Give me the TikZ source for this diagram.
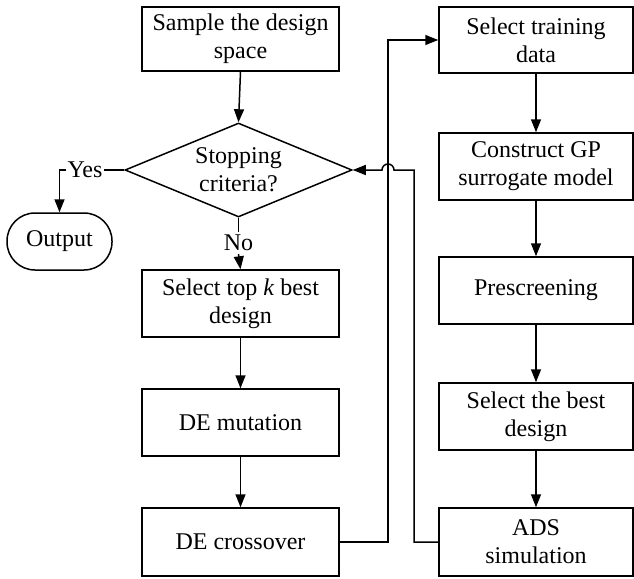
\documentclass[tikz,border=0pt]{standalone}
\usepackage{fontspec}
\setmainfont{Liberation Serif}
\usetikzlibrary{arrows.meta,shapes.geometric}
\begin{document}
\begin{tikzpicture}[x=1pt,y=-1pt,
  every node/.style={font=\fontsize{24}{28}\selectfont},
  lbox/.style={draw,line width=1.5pt,minimum width=197pt,minimum height=64pt,align=center,inner sep=0pt},
  rbox/.style={draw,line width=1.5pt,minimum width=194pt,minimum height=66pt,align=center,inner sep=0pt},
  conn/.style={line width=1.5pt},
  arr/.style={line width=1.5pt,-{Triangle[length=13pt,width=10pt]}}]
\useasboundingbox (0,0) rectangle (634,578);
% left column
\node[lbox] (sample) at (240.5,39) {Sample the design\\space};
\node[draw,line width=1.5pt,diamond,aspect=2.41,minimum width=227pt,minimum height=94pt,inner sep=0pt,align=center] (stop) at (238.5,170) {Stopping\\criteria?};
\node[draw,line width=1.5pt,rounded corners=28pt,minimum width=105pt,minimum height=57pt,inner sep=0pt] (out) at (59.5,241.5) {Output};
\node[inner sep=1pt] (yes) at (85,170) {Yes};
\node[inner sep=3pt] (no) at (238.5,243) {No};
\node[lbox,minimum height=67pt] (topk) at (240.5,303.5) {Select top \textit{k} best\\design};
\node[lbox,minimum height=67pt] (mut) at (240.5,422.5) {DE mutation};
\node[lbox,minimum height=68pt] (cross) at (240.5,542) {DE crossover};
% right column
\node[rbox] (train) at (536,40) {Select training\\data};
\node[rbox,minimum height=67pt] (gp) at (536,166.5) {Construct GP\\surrogate model};
\node[rbox,minimum height=67pt] (pre) at (536,290.5) {Prescreening};
\node[rbox,minimum height=67pt] (best) at (536,416.5) {Select the best\\design};
\node[rbox,minimum height=68pt] (ads) at (536,542) {ADS\\simulation};
% coordinates
\coordinate (c1) at (388,542);
\coordinate (c2) at (388,40);
\coordinate (d1) at (414,542);
\coordinate (d2) at (414,170);
\coordinate (h1) at (394,170);
% connectors
\draw[arr] (sample.south) -- (stop.north);
\draw[conn] (stop.west) -- (yes.east);
\draw[arr] (yes.west) -| (out.north);
\draw[conn] (stop.south) -- (no.north);
\draw[arr] (no.south) -- (topk.north);
\draw[arr] (topk) -- (mut);
\draw[arr] (mut) -- (cross);
\draw[arr] (cross.east) -- (c1) -- (c2) -- (train.west);
\draw[arr] (train) -- (gp);
\draw[arr] (gp) -- (pre);
\draw[arr] (pre) -- (best);
\draw[arr] (best) -- (ads);
\draw[arr] (ads.west) -- (d1) -- (d2) -- (h1) arc (0:180:6pt) -- (stop.east);
\end{tikzpicture}
\end{document}
